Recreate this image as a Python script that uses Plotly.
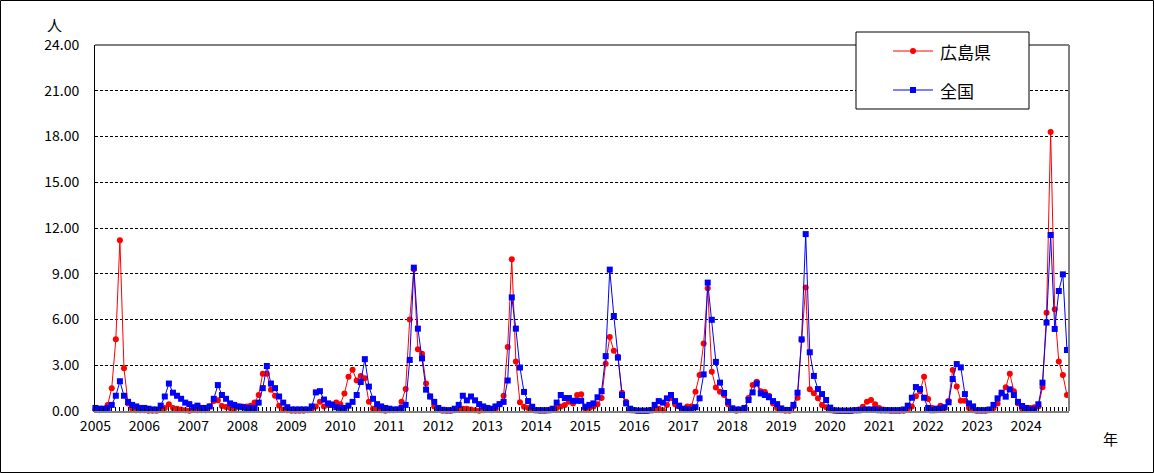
import plotly.graph_objects as go

years = list(range(2005, 2025))

# 広島県 (red) monthly values, Jan..Dec per year (2024 through Nov)
hiroshima = {
    2005: [0.1, 0.05, 0.1, 0.4, 1.5, 4.7, 11.2, 2.8, 0.5, 0.15, 0.05, 0.05],
    2006: [0.05, 0.02, 0.02, 0.02, 0.1, 0.2, 0.45, 0.2, 0.15, 0.1, 0.05, 0.02],
    2007: [0.1, 0.05, 0.05, 0.05, 0.3, 0.65, 0.7, 0.33, 0.27, 0.2, 0.13, 0.3],
    2008: [0.3, 0.3, 0.35, 0.55, 1.05, 2.45, 2.45, 1.4, 1.0, 0.35, 0.1, 0.05],
    2009: [0.02, 0.02, 0.02, 0.02, 0.05, 0.15, 0.3, 0.6, 0.3, 0.4, 0.45, 0.55],
    2010: [0.45, 1.15, 2.25, 2.7, 2.0, 2.3, 2.15, 0.6, 0.15, 0.1, 0.05, 0.02],
    2011: [0.05, 0.05, 0.1, 0.6, 1.45, 6.0, 9.3, 4.05, 3.75, 1.8, 0.95, 0.3],
    2012: [0.1, 0.02, 0.02, 0.02, 0.05, 0.1, 0.15, 0.15, 0.1, 0.05, 0.02, 0.05],
    2013: [0.1, 0.05, 0.1, 0.45, 1.0, 4.2, 9.95, 3.25, 0.57, 0.28, 0.2, 0.1],
    2014: [0.05, 0.02, 0.02, 0.05, 0.1, 0.2, 0.3, 0.4, 0.6, 0.5, 1.05, 1.1],
    2015: [0.15, 0.2, 0.3, 0.45, 0.85, 3.1, 4.85, 3.95, 3.55, 1.2, 0.6, 0.05],
    2016: [0.05, 0.02, 0.02, 0.02, 0.05, 0.1, 0.15, 0.05, 0.4, 0.85, 0.45, 0.3],
    2017: [0.1, 0.3, 0.3, 1.27, 2.36, 4.42, 8.05, 2.58, 1.54, 1.27, 1.05, 0.45],
    2018: [0.1, 0.02, 0.05, 0.15, 0.85, 1.7, 1.92, 1.3, 1.25, 1.0, 0.5, 0.2],
    2019: [0.05, 0.02, 0.02, 0.3, 0.87, 4.65, 8.1, 1.42, 1.16, 0.83, 0.4, 0.25],
    2020: [0.05, 0.02, 0.02, 0.02, 0.02, 0.02, 0.05, 0.1, 0.28, 0.6, 0.72, 0.45],
    2021: [0.2, 0.1, 0.05, 0.02, 0.02, 0.02, 0.02, 0.1, 0.3, 0.96, 1.3, 2.25],
    2022: [0.78, 0.2, 0.05, 0.35, 0.2, 0.66, 2.69, 1.6, 0.68, 0.68, 0.2, 0.05],
    2023: [0.02, 0.02, 0.02, 0.05, 0.2, 0.5, 1.15, 1.55, 2.45, 1.3, 0.5, 0.15],
    2024: [0.15, 0.2, 0.25, 0.3, 1.55, 6.45, 18.3, 6.67, 3.24, 2.36, 1.05],
}

# 全国 (blue)
zenkoku = {
    2005: [0.2, 0.15, 0.15, 0.2, 0.4, 1.0, 1.95, 1.0, 0.6, 0.4, 0.3, 0.2],
    2006: [0.2, 0.15, 0.1, 0.1, 0.35, 0.95, 1.8, 1.2, 1.0, 0.8, 0.55, 0.45],
    2007: [0.25, 0.35, 0.2, 0.2, 0.3, 0.8, 1.7, 1.05, 0.8, 0.5, 0.4, 0.3],
    2008: [0.25, 0.2, 0.2, 0.2, 0.55, 1.5, 2.95, 1.8, 1.5, 0.95, 0.55, 0.25],
    2009: [0.1, 0.1, 0.1, 0.1, 0.1, 0.3, 1.22, 1.3, 0.75, 0.5, 0.4, 0.25],
    2010: [0.2, 0.2, 0.35, 0.6, 1.05, 1.9, 3.4, 1.6, 0.8, 0.45, 0.3, 0.2],
    2011: [0.15, 0.1, 0.1, 0.2, 0.4, 3.35, 9.4, 5.4, 3.45, 1.4, 0.95, 0.6],
    2012: [0.2, 0.08, 0.05, 0.05, 0.15, 0.4, 1.0, 0.7, 0.95, 0.7, 0.45, 0.3],
    2013: [0.2, 0.15, 0.3, 0.45, 0.6, 2.0, 7.45, 5.4, 2.85, 1.25, 0.65, 0.28],
    2014: [0.05, 0.05, 0.05, 0.05, 0.15, 0.55, 1.05, 0.85, 0.85, 0.67, 0.67, 0.67],
    2015: [0.28, 0.4, 0.5, 0.9, 1.3, 3.6, 9.27, 6.23, 3.5, 1.05, 0.5, 0.15],
    2016: [0.05, 0.02, 0.02, 0.02, 0.05, 0.4, 0.65, 0.55, 0.83, 1.05, 0.65, 0.35],
    2017: [0.15, 0.1, 0.1, 0.25, 0.83, 2.4, 8.42, 5.98, 3.22, 1.86, 1.18, 0.6],
    2018: [0.18, 0.1, 0.1, 0.2, 0.72, 1.22, 1.8, 1.15, 1.05, 0.9, 0.65, 0.45],
    2019: [0.17, 0.07, 0.07, 0.4, 1.2, 4.7, 11.6, 3.85, 2.3, 1.44, 1.11, 0.72],
    2020: [0.22, 0.05, 0.02, 0.02, 0.02, 0.02, 0.05, 0.05, 0.08, 0.1, 0.1, 0.1],
    2021: [0.05, 0.05, 0.05, 0.05, 0.05, 0.05, 0.1, 0.35, 0.87, 1.57, 1.44, 0.87],
    2022: [0.2, 0.05, 0.15, 0.15, 0.25, 0.57, 2.1, 3.08, 2.86, 1.11, 0.5, 0.3],
    2023: [0.05, 0.05, 0.05, 0.1, 0.4, 0.83, 1.2, 0.94, 1.42, 1.05, 0.6, 0.33],
    2024: [0.2, 0.1, 0.1, 0.44, 1.86, 5.8, 11.54, 5.38, 7.87, 8.96, 4.0],
}

y_ticks = [0, 3, 6, 9, 12, 15, 18, 21, 24]

months = []
red_vals = []
blue_vals = []
for y in years:
    for m, (r, b) in enumerate(zip(hiroshima[y], zenkoku[y]), start=1):
        months.append(f"{y}/{m:02d}")
        red_vals.append(r)
        blue_vals.append(b)

tick_text = [m[:4] if m.endswith("/01") else "" for m in months]

FONT = "Noto Sans CJK JP, Noto Sans, sans-serif"

fig = go.Figure()
fig.add_trace(go.Scatter(
    x=months, y=red_vals, name="広島県", mode="lines+markers",
    line=dict(color="#FF0000", width=1),
    marker=dict(symbol="circle", size=6, color="#FF0000", line=dict(width=0)),
    cliponaxis=False, showlegend=False,
))
fig.add_trace(go.Scatter(
    x=months, y=blue_vals, name="全国", mode="lines+markers",
    line=dict(color="#0000FF", width=1),
    marker=dict(symbol="square", size=6, color="#0000FF", line=dict(width=0)),
    cliponaxis=False, showlegend=False,
))

# plot area in px: x 95..1069, y 45..411
PL, PR, PT, PB = 95, 1069, 45, 411
W, H = PR - PL, PB - PT


def px(x):
    return (x - PL) / W


def py(y):
    return (PB - y) / H


shapes = [
    # outer figure border
    dict(type="rect", xref="paper", yref="paper", x0=px(0.5), x1=px(1153.5),
         y0=py(472.5), y1=py(0.5), line=dict(color="black", width=1), layer="below"),
    # plot top and right borders
    dict(type="line", xref="paper", yref="paper", x0=0, x1=1, y0=1, y1=1,
         line=dict(color="#808080", width=2)),
    dict(type="line", xref="paper", yref="paper", x0=1, x1=1, y0=0, y1=1,
         line=dict(color="#808080", width=2)),
    # legend box
    dict(type="rect", xref="paper", yref="paper", x0=px(856), x1=px(1029),
         y0=py(109), y1=py(32), line=dict(color="black", width=1), fillcolor="white"),
    # legend lines
    dict(type="line", xref="paper", yref="paper", x0=px(893), x1=px(933),
         y0=py(51), y1=py(51), line=dict(color="#FF0000", width=1)),
    dict(type="line", xref="paper", yref="paper", x0=px(893), x1=px(933),
         y0=py(90), y1=py(90), line=dict(color="#0000FF", width=1)),
    # legend markers
    dict(type="circle", xref="paper", yref="paper", xsizemode="pixel", ysizemode="pixel",
         xanchor=px(913), yanchor=py(51), x0=-3, x1=3, y0=-3, y1=3,
         fillcolor="#FF0000", line=dict(width=0)),
    dict(type="rect", xref="paper", yref="paper", xsizemode="pixel", ysizemode="pixel",
         xanchor=px(913), yanchor=py(90), x0=-3, x1=3, y0=-3, y1=3,
         fillcolor="#0000FF", line=dict(width=0)),
]

annotations = [
    dict(text="広島県", xref="paper", yref="paper", x=px(938), y=py(51),
         xanchor="left", yanchor="middle", showarrow=False,
         font=dict(family=FONT, size=17, color="black")),
    dict(text="全国", xref="paper", yref="paper", x=px(938), y=py(90),
         xanchor="left", yanchor="middle", showarrow=False,
         font=dict(family=FONT, size=17, color="black")),
    dict(text="人", xref="paper", yref="paper", x=px(54), y=py(24),
         xanchor="center", yanchor="middle", showarrow=False,
         font=dict(family=FONT, size=15, color="black")),
    dict(text="年", xref="paper", yref="paper", x=px(1110), y=py(438),
         xanchor="center", yanchor="middle", showarrow=False,
         font=dict(family=FONT, size=15, color="black")),
]

fig.update_layout(
    width=1154, height=473,
    margin=dict(l=PL, r=1154 - PR, t=PT, b=473 - PB, pad=0),
    paper_bgcolor="white", plot_bgcolor="white",
    font=dict(family=FONT, size=14, color="black"),
    shapes=shapes, annotations=annotations,
    showlegend=False,
)
fig.update_xaxes(
    type="category", range=[-0.1, 238.5],
    tickmode="array", tickvals=months, ticktext=tick_text,
    ticks="inside", ticklen=4, tickwidth=1, tickcolor="black",
    showline=True, linecolor="#808080", linewidth=2,
    showgrid=False, zeroline=False, ticklabelstandoff=1,
    tickfont=dict(family=FONT, size=14),
)
fig.update_yaxes(
    range=[0, 24], tickmode="array", tickvals=y_ticks, tickformat=".2f",
    ticks="", showline=True, linecolor="black", linewidth=1,
    showgrid=True, gridcolor="black", gridwidth=1, griddash="3px,2px",
    zeroline=False, ticklabelstandoff=12,
    tickfont=dict(family=FONT, size=14),
)

fig.write_html("out.html")
